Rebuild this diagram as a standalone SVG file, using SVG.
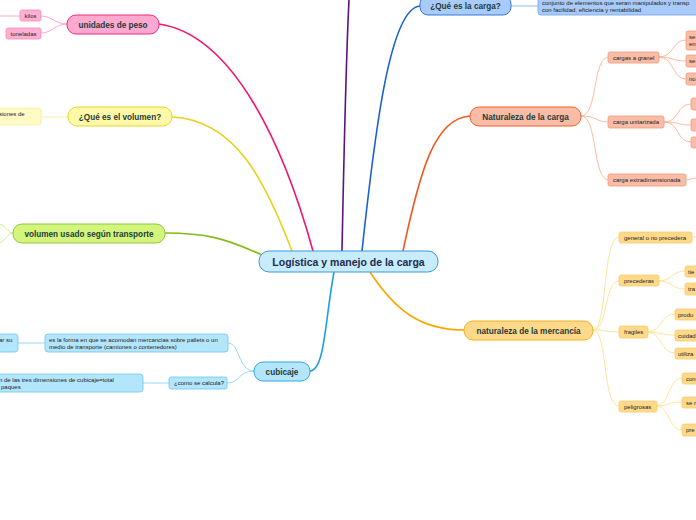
<svg xmlns="http://www.w3.org/2000/svg" width="696" height="520" viewBox="0 0 696 520">
<style>
.t{font-family:"Liberation Sans",Arial,sans-serif;font-size:6px;fill:#222}
.m{font-family:"Liberation Sans",Arial,sans-serif;font-size:8.2px;font-weight:bold;fill:#1d3b38;text-anchor:middle}
.c{font-family:"Liberation Sans",Arial,sans-serif;font-size:10.5px;font-weight:bold;fill:#1b2a4e;text-anchor:middle}
.main path{fill:none;stroke-width:1.6}
.sub path{fill:none;stroke-width:0.9}
</style>
<rect width="696" height="520" fill="#fff"/>
<g id="connectors">
 <g class="main">
  <path d="M313,251 C285,150 235,35 159,24" stroke="#f0166e"/>
  <path d="M292,251 C265,180 235,120 172,117" stroke="#e8d11b"/>
  <path d="M262,255 C225,238 205,233 165,233" stroke="#84bb17"/>
  <path d="M342,251 C344,150 346,60 349,0" stroke="#5a1480"/>
  <path d="M362,251 C375,130 390,8 420,6" stroke="#1a62d0"/>
  <path d="M403,251 C420,170 435,118 470,116" stroke="#f05820"/>
  <path d="M370,272 C395,310 420,330 464,330" stroke="#f5a800"/>
  <path d="M334,272 C325,320 325,370 310,371" stroke="#1d9fe0"/>
 </g>
 <g class="sub">
  <path d="M67,24 C55,24 52,16 41,16" stroke="#ff9cc8"/>
  <path d="M67,24 C55,24 52,33 41,33" stroke="#ff9cc8"/>
  <path d="M20,16 L0,16" stroke="#ff9cc8"/>
  <path d="M68,117 L41,117" stroke="#f7ec9a"/>
  <path d="M13,233 C8,233 6,226 0,224" stroke="#c9ea8a"/>
  <path d="M13,233 C8,233 6,240 0,243" stroke="#c9ea8a"/>
  <path d="M254,371 C238,371 240,343 228,343" stroke="#8fd3f3"/>
  <path d="M254,371 C238,371 240,383 227,383" stroke="#8fd3f3"/>
  <path d="M45,343 L18,343" stroke="#8fd3f3"/>
  <path d="M169,383 L143,383" stroke="#8fd3f3"/>
  <path d="M511,6 L538,6" stroke="#7fb0ef"/>
  <path d="M581,116 C598,116 592,57 609,57" stroke="#fbb39a"/>
  <path d="M581,116 C598,116 595,122 609,122" stroke="#fbb39a"/>
  <path d="M581,116 C598,116 592,180 609,180" stroke="#fbb39a"/>
  <path d="M659,57 C674,57 672,40 686,40" stroke="#fbb39a"/>
  <path d="M659,57 C674,57 672,61 686,61" stroke="#fbb39a"/>
  <path d="M659,57 C674,57 672,79 686,79" stroke="#fbb39a"/>
  <path d="M664,122 C680,122 676,104 691,104" stroke="#fbb39a"/>
  <path d="M664,122 C680,122 676,125 691,125" stroke="#fbb39a"/>
  <path d="M664,122 C680,122 676,142 691,142" stroke="#fbb39a"/>
  <path d="M686,180 C690,180 692,178 696,178" stroke="#fbb39a"/>
  <path d="M593,330 C608,330 602,237 619,237" stroke="#ffe08f"/>
  <path d="M593,330 C608,330 604,281 619,281" stroke="#ffe08f"/>
  <path d="M593,330 C608,330 605,332 619,332" stroke="#ffe08f"/>
  <path d="M593,330 C608,330 602,406 619,406" stroke="#ffe08f"/>
  <path d="M692,237 L696,237" stroke="#ffe08f"/>
  <path d="M659,281 C673,281 671,271 685,271" stroke="#ffe08f"/>
  <path d="M659,281 C673,281 671,289 685,289" stroke="#ffe08f"/>
  <path d="M647,332 C662,332 660,314 675,314" stroke="#ffe08f"/>
  <path d="M647,332 C662,332 660,335 675,335" stroke="#ffe08f"/>
  <path d="M647,332 C662,332 660,353 675,353" stroke="#ffe08f"/>
  <path d="M656,406 C670,406 668,378 682,378" stroke="#ffe08f"/>
  <path d="M656,406 C670,406 668,402 682,402" stroke="#ffe08f"/>
  <path d="M656,406 C670,406 668,430 682,430" stroke="#ffe08f"/>
 </g>
</g>

<g id="center">
 <rect x="259" y="251" width="179" height="21" rx="10" fill="#c8ecfc" stroke="#3a9ade"/>
 <text class="c" x="348.5" y="265.5">Logística y manejo de la carga</text>
</g>

<g id="unidades-peso">
 <rect x="67" y="15" width="92" height="19" rx="9" fill="#ffa8d0" stroke="#f0297f"/>
 <text class="m" x="113" y="27.5">unidades de peso</text>
</g>
<g id="kilos"><rect x="20" y="10" width="21" height="11" rx="2" fill="#ffb0d4" stroke="#f48ab9" stroke-width="0.8"/><text class="t" x="30.5" y="17.8" text-anchor="middle">kilos</text></g>
<g id="toneladas"><rect x="6" y="28" width="35" height="11" rx="2" fill="#ffb0d4" stroke="#f48ab9" stroke-width="0.8"/><text class="t" x="23.5" y="35.8" text-anchor="middle">toneladas</text></g>

<g id="que-volumen">
 <rect x="68" y="107" width="104" height="19" rx="9" fill="#fff8a8" stroke="#e8d430"/>
 <text class="m" x="120" y="119.5">¿Qué es el volumen?</text>
</g>
<g id="volumen-def"><rect x="-10" y="108" width="51" height="17" rx="3" fill="#fffbc4" stroke="#f6ec9c" stroke-width="0.8"/><text class="t" x="-1" y="116">siones de</text></g>

<g id="volumen-transporte">
 <rect x="13" y="224" width="152" height="19" rx="9" fill="#d4f57c" stroke="#8cc63f"/>
 <text class="m" x="89" y="236.5">volumen usado según transporte</text>
</g>

<g id="que-carga">
 <rect x="420" y="-4" width="91" height="19" rx="8" fill="#a8cbfa" stroke="#3a78d8"/>
 <text class="m" x="465.5" y="9">¿Qué es la carga?</text>
</g>
<g id="carga-def">
 <rect x="538" y="-3" width="170" height="18" rx="3" fill="#a8cbfa" stroke="#6ea2ea" stroke-width="0.8"/>
 <text class="t" x="542" y="5">conjunto de elementos que seran manipulados y transp</text>
 <text class="t" x="542" y="12">con facilidad, eficiencia y rentabilidad</text>
</g>

<g id="naturaleza-carga">
 <rect x="470" y="107" width="111" height="19" rx="9" fill="#f9bca6" stroke="#f0602a"/>
 <text class="m" x="525.5" y="119.5">Naturaleza de la carga</text>
</g>
<g id="granel"><rect x="608" y="52" width="51" height="11" rx="2" fill="#f9bca6" stroke="#f59a7c" stroke-width="0.8"/><text class="t" x="613" y="59.8">cargas a granel</text></g>
<g id="unitarizada"><rect x="608" y="116" width="56" height="12" rx="2" fill="#f9bca6" stroke="#f59a7c" stroke-width="0.8"/><text class="t" x="613" y="124.2">carga unitarizada</text></g>
<g id="extradimensionada"><rect x="608" y="174" width="78" height="12" rx="2" fill="#f9bca6" stroke="#f59a7c" stroke-width="0.8"/><text class="t" x="613" y="182.2">carga extradimensionada</text></g>
<g id="granel-1"><rect x="686" y="31" width="20" height="19" rx="2" fill="#f9bca6" stroke="#f59a7c" stroke-width="0.8"/><text class="t" x="689" y="39">se</text><text class="t" x="689" y="46">en</text></g>
<g id="granel-2"><rect x="686" y="55" width="20" height="12" rx="2" fill="#f9bca6" stroke="#f59a7c" stroke-width="0.8"/><text class="t" x="689" y="63">se</text></g>
<g id="granel-3"><rect x="686" y="73" width="20" height="12" rx="2" fill="#f9bca6" stroke="#f59a7c" stroke-width="0.8"/><text class="t" x="689" y="81">no</text></g>
<g id="unit-1"><rect x="691" y="98" width="20" height="12" rx="2" fill="#f9bca6" stroke="#f59a7c" stroke-width="0.8"/></g>
<g id="unit-2"><rect x="691" y="119" width="20" height="12" rx="2" fill="#f9bca6" stroke="#f59a7c" stroke-width="0.8"/></g>
<g id="unit-3"><rect x="691" y="137" width="20" height="11" rx="2" fill="#f9bca6" stroke="#f59a7c" stroke-width="0.8"/></g>

<g id="naturaleza-mercancia">
 <rect x="464" y="321" width="129" height="19" rx="9" fill="#ffd98a" stroke="#f5b020"/>
 <text class="m" x="528.5" y="333.5">naturaleza de la mercancía</text>
</g>
<g id="general"><rect x="619" y="232" width="73" height="11" rx="2" fill="#ffd98a" stroke="#f8cb6a" stroke-width="0.8"/><text class="t" x="624" y="239.8">general o no precedera</text></g>
<g id="precederas"><rect x="619" y="275" width="40" height="11" rx="2" fill="#ffd98a" stroke="#f8cb6a" stroke-width="0.8"/><text class="t" x="624" y="282.8">precederas</text></g>
<g id="fragiles"><rect x="619" y="326" width="29" height="12" rx="2" fill="#ffd98a" stroke="#f8cb6a" stroke-width="0.8"/><text class="t" x="624" y="334.2">fragiles</text></g>
<g id="peligrosas"><rect x="619" y="401" width="38" height="11" rx="2" fill="#ffd98a" stroke="#f8cb6a" stroke-width="0.8"/><text class="t" x="624" y="408.8">peligrosas</text></g>
<g id="prec-1"><rect x="685" y="266" width="20" height="11" rx="2" fill="#ffd98a" stroke="#f8cb6a" stroke-width="0.8"/><text class="t" x="688" y="273.8">tie</text></g>
<g id="prec-2"><rect x="685" y="283" width="20" height="12" rx="2" fill="#ffd98a" stroke="#f8cb6a" stroke-width="0.8"/><text class="t" x="688" y="291">tra</text></g>
<g id="frag-1"><rect x="675" y="309" width="30" height="11" rx="2" fill="#ffd98a" stroke="#f8cb6a" stroke-width="0.8"/><text class="t" x="678" y="316.8">produ</text></g>
<g id="frag-2"><rect x="675" y="330" width="30" height="11" rx="2" fill="#ffd98a" stroke="#f8cb6a" stroke-width="0.8"/><text class="t" x="678" y="337.8">cuidad</text></g>
<g id="frag-3"><rect x="675" y="348" width="30" height="11" rx="2" fill="#ffd98a" stroke="#f8cb6a" stroke-width="0.8"/><text class="t" x="678" y="355.8">utiliza</text></g>
<g id="pel-1"><rect x="682" y="373" width="24" height="11" rx="2" fill="#ffd98a" stroke="#f8cb6a" stroke-width="0.8"/><text class="t" x="686" y="380.8">con</text></g>
<g id="pel-2"><rect x="682" y="397" width="24" height="11" rx="2" fill="#ffd98a" stroke="#f8cb6a" stroke-width="0.8"/><text class="t" x="686" y="404.8">se r</text></g>
<g id="pel-3"><rect x="682" y="424" width="24" height="12" rx="2" fill="#ffd98a" stroke="#f8cb6a" stroke-width="0.8"/><text class="t" x="686" y="432">pre</text></g>

<g id="cubicaje">
 <rect x="254" y="362" width="56" height="19" rx="9" fill="#b3e5fb" stroke="#2ea8e0"/>
 <text class="m" x="282" y="374.5">cubicaje</text>
</g>
<g id="cubicaje-def">
 <rect x="45" y="334" width="183" height="18" rx="3" fill="#b3e5fb" stroke="#6cc6ef" stroke-width="0.8"/>
 <text class="t" x="49" y="342">es la forma en que se acomodan mercancias sobre pallets o un</text>
 <text class="t" x="49" y="349">medio de transporte (camiones o contenedores)</text>
</g>
<g id="cubicaje-left"><rect x="-10" y="334" width="28" height="18" rx="3" fill="#b3e5fb" stroke="#6cc6ef" stroke-width="0.8"/><text class="t" x="-1" y="342">ar su</text></g>
<g id="como-calcula"><rect x="169" y="377" width="58" height="12" rx="2" fill="#b3e5fb" stroke="#6cc6ef" stroke-width="0.8"/><text class="t" x="174" y="385">¿como se calcula?</text></g>
<g id="calculo-def">
 <rect x="-10" y="374" width="153" height="18" rx="3" fill="#b3e5fb" stroke="#6cc6ef" stroke-width="0.8"/>
 <text class="t" x="-1" y="382">n de las tres dimensiones de cubicaje=total</text>
 <text class="t" x="1" y="389">paques</text>
</g>
</svg>
